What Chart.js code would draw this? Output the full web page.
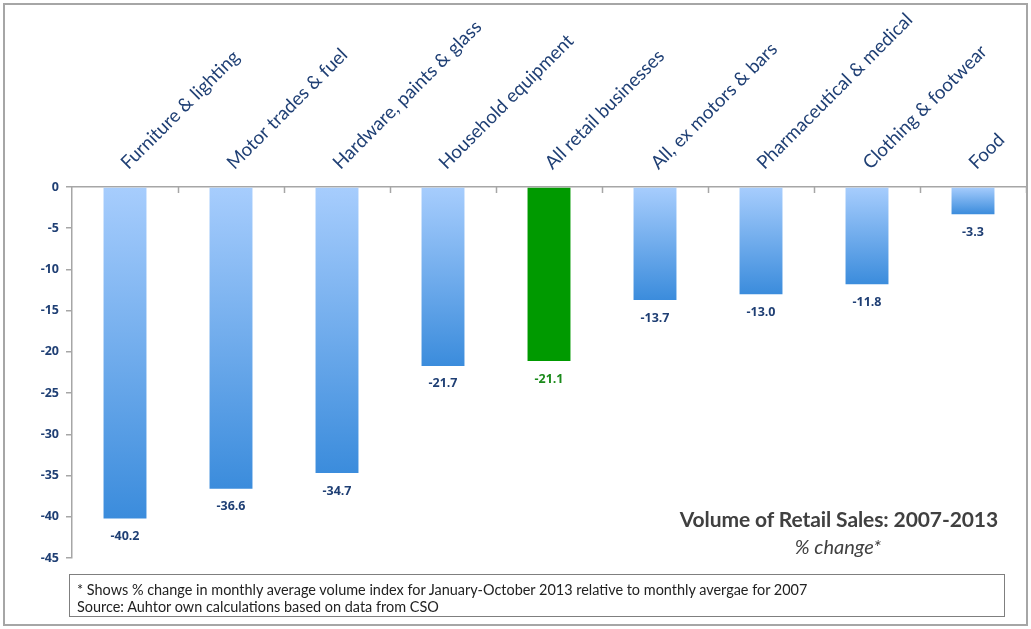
<!DOCTYPE html>
<html>
<head>
<meta charset="utf-8">
<script src="https://cdn.jsdelivr.net/npm/chart.js@4.4.1/dist/chart.umd.min.js"></script>
<style>
  html,body{margin:0;padding:0;background:#fff;}
  #wrap{position:relative;width:1031px;height:629px;overflow:hidden;}
  #frame{position:absolute;left:3px;top:3px;width:1021px;height:619px;border:2px solid #a6a6a6;}
  canvas{position:absolute;left:0;top:0;}
  #title{position:absolute;right:33px;top:506px;font-family:"Lato",sans-serif;font-weight:bold;font-size:21px;color:#404040;white-space:nowrap;letter-spacing:-0.1px;}
  #sub{position:absolute;left:778px;top:534px;width:120px;text-align:center;font-family:"Lato",sans-serif;font-style:italic;font-size:20px;color:#404040;}
  #note{position:absolute;left:69px;top:574px;width:936px;height:43px;border:1.5px solid #7f7f7f;font-family:"Lato",sans-serif;font-size:14.45px;color:#222;line-height:17px;padding:6px 0 0 7px;box-sizing:border-box;}
</style>
</head>
<body>
<div id="wrap">
  <canvas id="c" width="1031" height="629"></canvas>
  <div id="frame"></div>
  <div id="title">Volume of Retail Sales: 2007-2013</div>
  <div id="sub">% change*</div>
  <div id="note">* Shows % change in monthly average volume index for January-October 2013 relative to monthly avergae for 2007<br>Source: Auhtor own calculations based on data from CSO</div>
</div>
<script>
const categories = ["Furniture & lighting","Motor trades & fuel","Hardware, paints & glass","Household equipment","All retail businesses","All, ex motors & bars","Pharmaceutical & medical","Clothing & footwear","Food"];
const values = [-40.2,-36.6,-34.7,-21.7,-21.1,-13.7,-13.0,-11.8,-3.3];
const highlightIndex = 4;
const yMin = -45, yMax = 0, yStep = 5;

const navy = "#1f3f74";
const greenBar = "#009a00";
const greenText = "#1b8a1b";

function barFill(ctx){
  const i = ctx.dataIndex;
  if (i === highlightIndex) return greenBar;
  const chart = ctx.chart;
  const ys = chart.scales.y;
  if (!ys || !chart.chartArea) return "#6aa6ee";
  const y0 = ys.getPixelForValue(0);
  const y1 = ys.getPixelForValue(values[i]);
  const g = chart.ctx.createLinearGradient(0, y0, 0, y1);
  g.addColorStop(0, "#a7cdfd");
  g.addColorStop(1, "#3b8cdc");
  return g;
}

const xTickMarks = {
  id:"xTickMarks",
  afterDraw(chart){
    const xs = chart.scales.x, c = chart.ctx;
    const top = chart.chartArea.top;
    c.save();
    c.strokeStyle = "#a6a6a6";
    c.lineWidth = 1.5;
    for (let i = 0; i < categories.length; i++){
      const px = Math.round(xs.getPixelForValue(i + 0.5)) + 0.5;
      c.beginPath(); c.moveTo(px, top); c.lineTo(px, top + 6); c.stroke();
    }
    c.restore();
  }
};

const valueLabels = {
  id:"valueLabels",
  afterDatasetsDraw(chart){
    const c = chart.ctx;
    const meta = chart.getDatasetMeta(0);
    c.save();
    c.font = "bold 12.5px 'Open Sans', sans-serif";
    c.textAlign = "center";
    c.textBaseline = "middle";
    meta.data.forEach((bar, i) => {
      c.fillStyle = i === highlightIndex ? greenText : navy;
      c.fillText(values[i].toFixed(1), bar.x, bar.y + 18);
    });
    c.restore();
  }
};

new Chart(document.getElementById("c"), {
  type:"bar",
  data:{
    labels:categories,
    datasets:[{
      data:values,
      backgroundColor:barFill,
      borderWidth:0,
      categoryPercentage:1.0,
      barPercentage:0.405
    }]
  },
  options:{
    responsive:false,
    animation:false,
    devicePixelRatio:1,
    layout:{padding:{left:0,right:5,top:0,bottom:71}},
    plugins:{legend:{display:false},tooltip:{enabled:false}},
    scales:{
      x:{
        position:"top",
        offset:true,
        grid:{display:false,drawTicks:false},
        border:{display:true,color:"#a6a6a6",width:1.5},
        ticks:{
          color:navy,
          font:{family:"Lato",size:18.7},
          minRotation:45,maxRotation:45,
          autoSkip:false,
          padding:13,
          labelOffset:15
        },
        afterFit(scale){ scale.height = 187; }
      },
      y:{
        min:yMin,max:yMax,
        grid:{drawOnChartArea:false,drawTicks:true,tickLength:6,color:"#a6a6a6",lineWidth:1.5},
        border:{display:true,color:"#a6a6a6",width:1.5},
        ticks:{
          stepSize:yStep,
          color:navy,
          font:{family:"'Open Sans'",size:12.5,weight:"bold"},
          padding:7
        },
        afterFit(scale){ scale.width = 72; }
      }
    }
  },
  plugins:[xTickMarks,valueLabels]
});
</script>
</body>
</html>
